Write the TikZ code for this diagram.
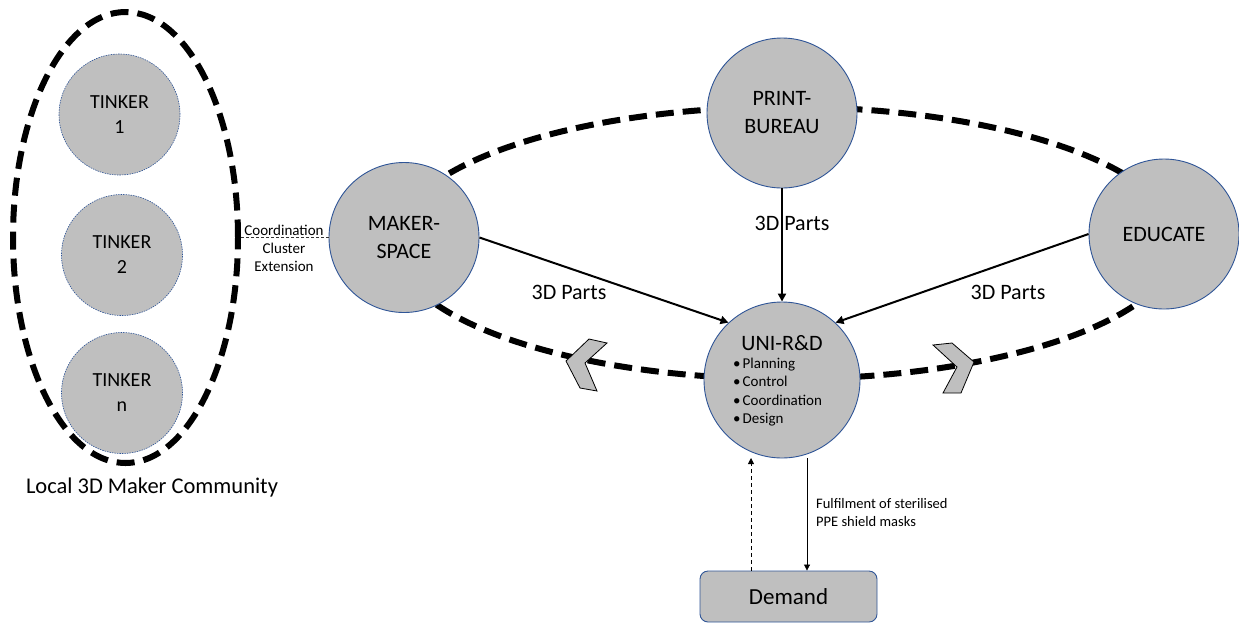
\documentclass[tikz,border=0pt]{standalone}
\usepackage{fontspec}
\setmainfont{Carlito}
\usetikzlibrary{arrows.meta,shapes.geometric,calc}
\definecolor{nodefill}{HTML}{BFBFBF}
\definecolor{nodeline}{HTML}{2F5597}
\begin{document}
\begin{tikzpicture}[x=1pt,y=-1pt,
  hub/.style={circle,draw=nodeline,line width=0.9pt,fill=nodefill,minimum size=150pt,inner sep=0pt,align=center,font=\fontsize{22}{28}\selectfont},
  tinker/.style={circle,draw=nodeline,dash pattern=on 1.5pt off 1pt,line width=0.6pt,fill=nodefill,minimum size=121pt,inner sep=0pt,align=center,font=\fontsize{20}{25}\selectfont},
  bigdash/.style={line width=6pt,dash pattern=on 18pt off 9pt},
  partarrow/.style={line width=2pt,-{Triangle[length=8pt,width=8pt]}},
  thinarrow/.style={line width=0.8pt,-{Triangle[length=6pt,width=6pt]}},
  chev/.style={draw=black,line width=0.8pt,fill=nodefill},
  lbl/.style={font=\fontsize{22}{26}\selectfont,inner sep=0pt},
  small/.style={font=\fontsize{15}{18}\selectfont,inner sep=0pt,align=center}
]
\useasboundingbox (0,0) rectangle (1239,625);

% main dashed ring
\draw[bigdash] (786,243) ellipse [x radius=392, y radius=136];

% community ellipse
\node[ellipse,draw,bigdash,minimum width=225pt,minimum height=451pt,inner sep=0pt] (community) at (125.5,237.5) {};

% chevrons
\filldraw[chev] (566,361) -- (589,339) -- (607,343) -- (585,363) -- (597,391) -- (580,388) -- cycle;
\filldraw[chev] (933,345) -- (952,343) -- (974,362) -- (961,393) -- (943,393) -- (957,367) -- cycle;

% tinkers
\node[tinker] (t1) at (119.5,114.5) {TINKER\\1};
\node[tinker] (t2) at (122,255) {TINKER\\2};
\node[tinker] (tn) at (122,393) {TINKER\\n};

% hubs
\node[hub] (maker) at (404,237.5) {MAKER-\\SPACE};
\node[hub] (print) at (782,113) {PRINT-\\BUREAU};
\node[hub] (educate) at (1164,234) {EDUCATE};
\node[hub,minimum size=156pt] (uni) at (782,380) {};
\node[font=\fontsize{22}{26}\selectfont,inner sep=0pt] (unititle) at (782,343) {UNI-R\&D};
\node[anchor=north west,align=left,font=\fontsize{15}{18.3}\selectfont,inner sep=0pt] (unilist) at (733,358)
  {\textbullet\hspace{2pt}Planning\\\textbullet\hspace{2pt}Control\\\textbullet\hspace{2pt}Coordination\\\textbullet\hspace{2pt}Design};

% coordination link
\draw[line width=0.7pt,dash pattern=on 3pt off 2pt,black!80] (community.east) -- (maker.west);
\node[small] (coordlbl) at (284,248) {Coordination\\Cluster\\Extension};

% 3D parts arrows
\draw[partarrow] (maker.east) -- (uni.133);
\draw[partarrow] (educate.west) -- (uni.47);
\draw[partarrow] (print.south) -- (uni.north);
\node[lbl] (p1) at (792,223) {3D Parts};
\node[lbl] (p2) at (569,292) {3D Parts};
\node[lbl] (p3) at (1008,292) {3D Parts};

% demand
\node[draw=nodeline,fill=nodefill,rounded corners=8pt,minimum width=177pt,minimum height=51pt,line width=0.9pt,font=\fontsize{23}{27}\selectfont] (demand) at (788.5,596.5) {Demand};
\coordinate (upx) at (751,458);
\coordinate (downx) at (807,458);
\draw[thinarrow,dash pattern=on 4pt off 3pt] (upx |- demand.north) -- (upx);
\draw[thinarrow] (downx) -- (downx |- demand.north);
\node[anchor=west,align=left,font=\fontsize{14.5}{18}\selectfont,inner sep=0pt] (fulfil) at (816,513) {Fulfilment of sterilised\\PPE shield masks};

% caption
\node[font=\fontsize{22.5}{26}\selectfont,inner sep=0pt] (local) at (152,487) {Local 3D Maker Community};
\end{tikzpicture}
\end{document}
